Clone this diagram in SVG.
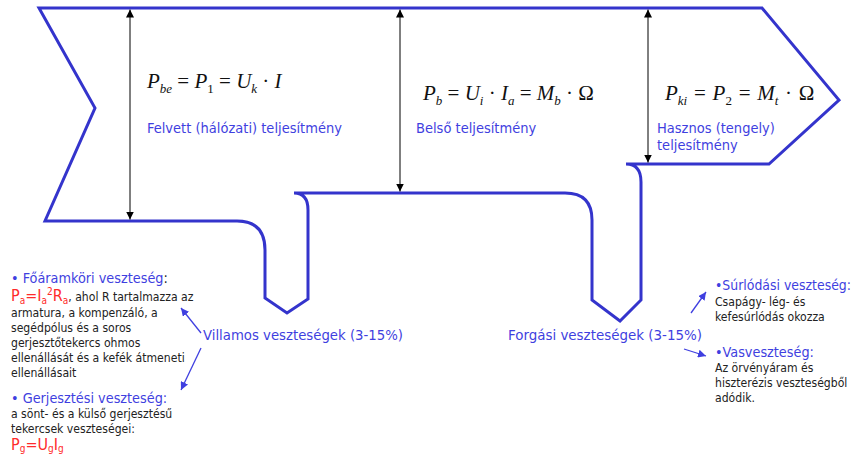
<svg xmlns="http://www.w3.org/2000/svg" width="854" height="456" viewBox="0 0 854 456">
<style>
.outline{fill:none;stroke:#3434cc;stroke-width:3;stroke-linejoin:miter}
.dim{stroke:#000;stroke-width:1;marker-start:url(#ah);marker-end:url(#ah)}
.m{font-family:"Liberation Serif",serif;font-size:21px;font-style:italic;fill:#111}
.up{font-style:normal}
.sub{font-size:13px}
.lbl{font-family:"DejaVu Sans",sans-serif;font-stretch:condensed;font-size:14.5px;fill:#3f3fe0}
.hd{font-family:"DejaVu Sans",sans-serif;font-stretch:condensed;font-size:14.3px;fill:#3f3fe0}
.bd{font-family:"DejaVu Sans",sans-serif;font-stretch:condensed;font-size:12.1px;fill:#222}
.red{font-family:"DejaVu Sans",sans-serif;font-stretch:condensed;font-size:16px;fill:#ff2a2a}
.lk{stroke:#3f3fe0;stroke-width:1.3;fill:none;marker-end:url(#ab)}
</style>
<defs>
<marker id="ah" viewBox="0 0 10 10" refX="10" refY="5" markerWidth="8" markerHeight="8" markerUnits="userSpaceOnUse" orient="auto-start-reverse"><path d="M0,0 L10,5 L0,10 z" fill="#000"/></marker>
<marker id="ab" viewBox="0 0 10 10" refX="10" refY="5" markerWidth="8" markerHeight="8" markerUnits="userSpaceOnUse" orient="auto"><path d="M0,0 L10,5 L0,10 z" fill="#3f3fe0"/></marker>
</defs>
<rect width="854" height="456" fill="#fff"/>

<g id="flow">
<path class="outline" d="M39,8 L762,8 L839,100 L769,164 L626,164 Q641,164 641,182 L641,300 L620,321 L592,300 L592,220 Q592,193 565,193 L294,193 Q308,193 308,210 L308,299 L287,313 L265,298 L265,250 Q265,221 237,221 L45,221 L95,108 Z"/>
</g>

<g id="connectors">
<line class="dim" x1="130" y1="9.5" x2="130" y2="219.5"/>
<line class="dim" x1="400" y1="9.5" x2="400" y2="191.5"/>
<line class="dim" x1="648" y1="9.5" x2="648" y2="162.5"/>
<line class="lk" x1="201" y1="333" x2="181" y2="308"/>
<line class="lk" x1="201" y1="348" x2="181" y2="390"/>
<line class="lk" x1="691" y1="313" x2="706" y2="292"/>
<line class="lk" x1="684" y1="349" x2="706" y2="356"/>
</g>

<g id="input">
<text class="m" x="147" y="88" font-size="20">P<tspan class="sub" dy="5">be</tspan><tspan class="up" dy="-5"> = </tspan>P<tspan class="sub up" dy="5">1</tspan><tspan class="up" dy="-5"> = </tspan>U<tspan class="sub" dy="5">k</tspan><tspan class="up" dy="-5"> · </tspan>I</text>
<text class="lbl" x="147" y="133">Felvett (hálózati) teljesítmény</text>
</g>

<g id="internal">
<text class="m" x="423" y="100">P<tspan class="sub" dy="5">b</tspan><tspan class="up" dy="-5"> = </tspan>U<tspan class="sub" dy="5">i</tspan><tspan class="up" dy="-5"> · </tspan>I<tspan class="sub" dy="5">a</tspan><tspan class="up" dy="-5"> = </tspan>M<tspan class="sub" dy="5">b</tspan><tspan class="up" dy="-5"> · Ω</tspan></text>
<text class="lbl" x="416" y="133">Belső teljesítmény</text>
</g>

<g id="output">
<text class="m" x="665" y="100" word-spacing="1.5">P<tspan class="sub" dy="5">ki</tspan><tspan class="up" dy="-5"> = </tspan>P<tspan class="sub up" dy="5">2</tspan><tspan class="up" dy="-5"> = </tspan>M<tspan class="sub" dy="5">t</tspan><tspan class="up" dy="-5"> · Ω</tspan></text>
<text class="lbl" x="657" y="133">Hasznos (tengely)</text>
<text class="lbl" x="657" y="150">teljesítmény</text>
</g>

<g id="electrical">
<text class="hd" x="203" y="340" font-size="14.8" textLength="200" lengthAdjust="spacingAndGlyphs">Villamos veszteségek (3-15%)</text>
</g>

<g id="rotational">
<text class="hd" x="508" y="340" font-size="14.8" textLength="194" lengthAdjust="spacingAndGlyphs">Forgási veszteségek (3-15%)</text>
</g>

<g id="main-circuit">
<text class="hd" x="11" y="283" font-size="15">• Főáramköri veszteség<tspan fill="#222">:</tspan></text>
<text class="red" x="11" y="301">P<tspan font-size="10" dy="3">a</tspan><tspan dy="-3">=I</tspan><tspan font-size="10" dy="3">a</tspan><tspan font-size="10" dy="-9">2</tspan><tspan dy="6">R</tspan><tspan font-size="10" dy="3">a</tspan><tspan dy="-3" class="bd">, ahol R tartalmazza az</tspan></text>
<text class="bd" x="11" y="317">armatura, a kompenzáló, a</text>
<text class="bd" x="11" y="332">segédpólus és a soros</text>
<text class="bd" x="11" y="347">gerjesztőtekercs ohmos</text>
<text class="bd" x="11" y="362">ellenállását és a kefék átmeneti</text>
<text class="bd" x="11" y="377">ellenállásait</text>
</g>

<g id="excitation">
<text class="hd" x="11" y="403" font-size="15">• Gerjesztési veszteség:</text>
<text class="bd" x="11" y="418">a sönt- és a külső gerjesztésű</text>
<text class="bd" x="11" y="433">tekercsek veszteségei:</text>
<text class="red" x="11" y="450">P<tspan font-size="10" dy="2">g</tspan><tspan dy="-2">=U</tspan><tspan font-size="10" dy="2">g</tspan><tspan dy="-2">I</tspan><tspan font-size="10" dy="2">g</tspan></text>
</g>

<g id="friction">
<text class="hd" x="715" y="290" textLength="136" lengthAdjust="spacingAndGlyphs">•Súrlódási veszteség:</text>
<text class="bd" x="715" y="306">Csapágy- lég- és</text>
<text class="bd" x="715" y="321">kefesúrlódás okozza</text>
</g>

<g id="iron">
<text class="hd" x="715" y="357">•Vasveszteség:</text>
<text class="bd" x="715" y="372">Az örvényáram és</text>
<text class="bd" x="715" y="387">hiszterézis veszteségből</text>
<text class="bd" x="715" y="402">adódik.</text>
</g>
</svg>
